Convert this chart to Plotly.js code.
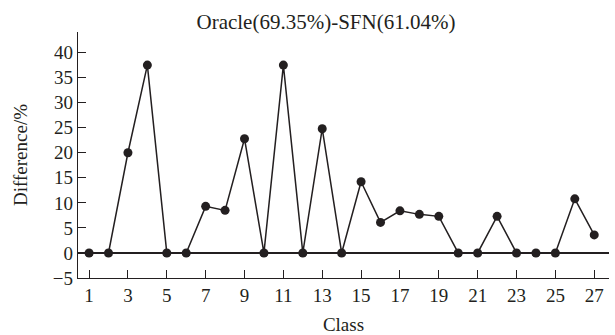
<!DOCTYPE html>
<html>
<head>
<meta charset="utf-8">
<script src="https://cdn.plot.ly/plotly-3.0.1.min.js"></script>
<style>html,body{margin:0;padding:0;background:#fff;}#chart{width:615px;height:335px;}</style>
</head>
<body>
<div id="chart"></div>
<script>
var classes = [1,2,3,4,5,6,7,8,9,10,11,12,13,14,15,16,17,18,19,20,21,22,23,24,25,26,27];
var difference = [0,0,20,37.5,0,0,9.3,8.5,22.8,0,37.5,0,24.8,0,14.2,6.1,8.4,7.7,7.3,0,0,7.3,0,0,0,10.8,3.6];
var xTickVals = [1,3,5,7,9,11,13,15,17,19,21,23,25,27];
var yTickVals = [-5,0,5,10,15,20,25,30,35,40];

var fontFamily = '"Liberation Serif", "Times New Roman", serif';
var ink = '#231f20';

var trace = {
  x: classes,
  y: difference,
  type: 'scatter',
  mode: 'lines+markers',
  line: {color: ink, width: 1.5},
  marker: {color: ink, size: 9},
  cliponaxis: false,
  showlegend: false
};

var layout = {
  width: 615,
  height: 335,
  margin: {l: 78, r: 6, t: 32, b: 57},
  paper_bgcolor: '#fff',
  plot_bgcolor: '#fff',
  font: {family: fontFamily, size: 19, color: ink},
  title: {text: 'Oracle(69.35%)-SFN(61.04%)', x: 0.53, xanchor: 'center', y: 0.935, yanchor: 'middle', xref: 'container', yref: 'container', font: {family: fontFamily, size: 21, color: ink}},
  xaxis: {
    range: [0.43, 27.76],
    tickmode: 'array',
    tickvals: xTickVals,
    ticktext: xTickVals.map(String),
    ticks: 'inside',
    ticklen: 8,
    tickwidth: 1,
    tickcolor: ink,
    showline: true,
    linecolor: ink,
    linewidth: 1.2,
    showgrid: false,
    zeroline: false,
    tickfont: {family: fontFamily, size: 19, color: ink},
    title: {text: 'Class', standoff: 18, font: {family: fontFamily, size: 19, color: ink}}
  },
  yaxis: {
    range: [-5, 44.1],
    tickmode: 'array',
    tickvals: yTickVals,
    ticktext: yTickVals.map(function(v){return v < 0 ? '\u2212' + Math.abs(v) : String(v);}),
    ticks: 'inside',
    ticklen: 8,
    tickwidth: 1,
    tickcolor: ink,
    showline: true,
    linecolor: ink,
    linewidth: 1.2,
    showgrid: false,
    zeroline: true,
    zerolinecolor: ink,
    zerolinewidth: 1.2,
    tickfont: {family: fontFamily, size: 19, color: ink},
    title: {text: 'Difference/%', standoff: 20, font: {family: fontFamily, size: 19, color: ink}}
  }
};

Plotly.newPlot('chart', [trace], layout, {displayModeBar: false, staticPlot: true});
</script>
</body>
</html>
